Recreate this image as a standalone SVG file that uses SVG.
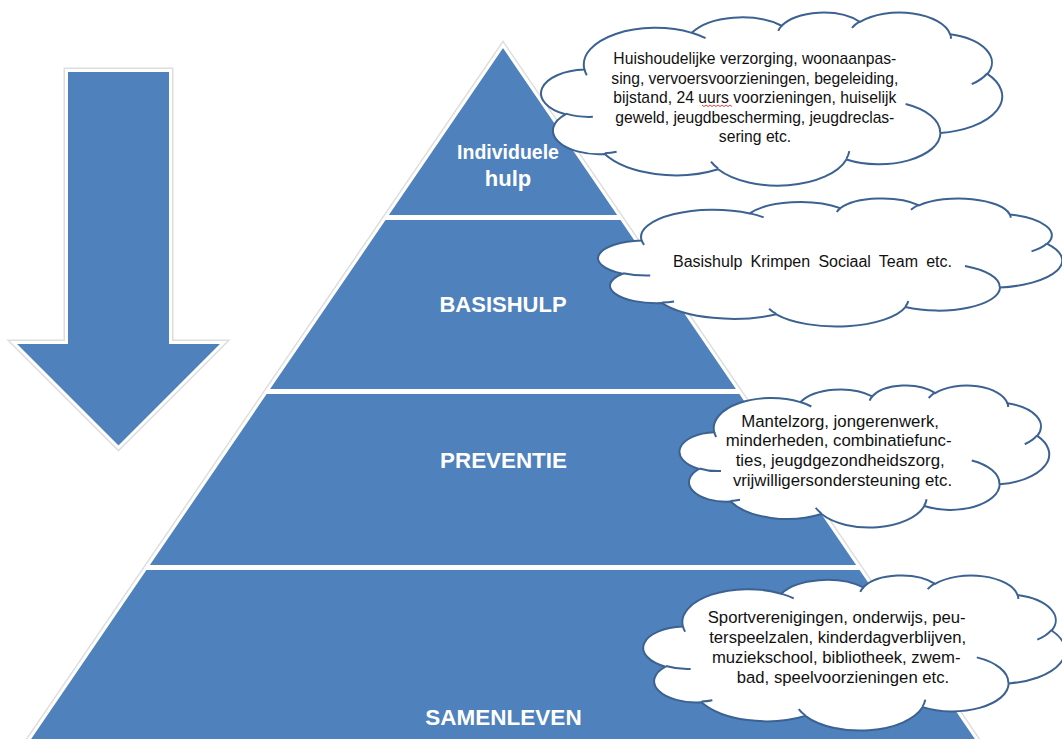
<svg xmlns="http://www.w3.org/2000/svg" width="1062" height="739" viewBox="0 0 1062 739">
<style>
.halo{fill:#fff;stroke:#dedede;stroke-width:6;stroke-linejoin:miter}
.sec{fill:#4F81BD;stroke:#fff;stroke-width:3;stroke-linejoin:miter}
.lbl{font-family:"Liberation Sans",Arial,sans-serif;font-weight:bold;fill:#fff;text-anchor:middle}
.cloud{fill:#fff;stroke:#3B6291;stroke-width:2;vector-effect:non-scaling-stroke}
.inner{fill:none;stroke:#3B6291;stroke-width:2;vector-effect:non-scaling-stroke}
.ct{font-family:"Liberation Sans",Arial,sans-serif;fill:#111;text-anchor:middle}
</style>
<rect width="1062" height="739" fill="#fff"/>

<g id="arrow">
  <polygon class="halo" points="66.5,70.5 170.5,70.5 170.5,342.5 223.5,342.5 118.5,447.5 13.5,342.5 66.5,342.5"/>
  <polygon class="sec" points="66.5,70.5 170.5,70.5 170.5,342.5 223.5,342.5 118.5,447.5 13.5,342.5 66.5,342.5"/>
</g>

<g id="pyramid">
  <polygon class="halo" points="503,45.4 980.8,745 25.2,745"/>
  <g id="level-individuele">
    <polygon class="sec" points="503,45.4 619.9,216.5 386.1,216.5"/>
    <text class="lbl" x="508" y="158.5" font-size="19.5">Individuele</text>
    <text class="lbl" x="508" y="186" font-size="22">hulp</text>
  </g>
  <g id="level-basishulp">
    <polygon class="sec" points="384.8,218.5 621.2,218.5 738.7,390.5 267.3,390.5"/>
    <text class="lbl" x="503" y="312" font-size="22">BASISHULP</text>
  </g>
  <g id="level-preventie">
    <polygon class="sec" points="265.9,392.5 740.1,392.5 858.9,566.5 147.1,566.5"/>
    <text class="lbl" x="503.5" y="467.5" font-size="22.4">PREVENTIE</text>
  </g>
  <g id="level-samenleven">
    <polygon class="sec" points="145.7,568.5 860.3,568.5 980.8,745 25.2,745"/>
    <text class="lbl" x="503.5" y="725" font-size="22.5">SAMENLEVEN</text>
  </g>
</g>

<g id="cloud-individuele">
  <g transform="translate(543,12) scale(1.0625,0.4005)">
    <path class="cloud" d="M39.00 143.70 A67.53 91.90 0 0 1 140.07 52.03 A53.33 72.67 0 0 1 224.59 34.36 A43.65 59.45 0 0 1 298.37 24.86 A48.57 65.95 0 0 1 383.22 55.82 A53.33 72.73 0 0 1 418.22 154.66 A67.75 92.20 0 0 1 374.07 302.08 A57.85 78.67 0 0 1 285.58 368.18 A67.52 92.15 0 0 1 164.82 392.66 A77.20 105.43 0 0 1 58.04 354.70 A43.60 59.18 0 0 1 21.13 255.48 A43.45 59.45 0 0 1 39.00 143.70 Z"/>
    <path class="inner" d="M46.93 261.77 A43.45 59.45 0 0 1 21.59 253.80 M69.28 348.99 A43.60 59.18 0 0 1 58.20 352.81 M164.78 390.90 A67.52 92.15 0 0 1 158.11 373.51 M288.27 347.51 A67.52 92.15 0 0 1 285.60 366.60 M341.29 229.54 A57.85 78.67 0 0 1 373.81 300.90 M417.98 153.54 A53.33 72.73 0 0 1 403.51 180.29 M383.24 54.26 A48.57 65.95 0 0 1 384.00 66.90 M290.78 39.52 A48.57 65.95 0 0 1 298.20 23.39 M221.41 47.20 A43.65 59.45 0 0 1 225.00 33.30 M140.00 51.92 A67.53 91.90 0 0 1 153.00 65.42 M41.27 157.89 A67.53 91.90 0 0 1 39.00 143.70"/>
  </g>
  <text class="ct" font-size="15.7">
    <tspan x="757" y="64" textLength="283" lengthAdjust="spacing">Huishoudelijke verzorging, woonaanpas-</tspan>
    <tspan x="757" y="83.5" textLength="287" lengthAdjust="spacing">sing, vervoersvoorzieningen, begeleiding,</tspan>
    <tspan x="757" y="103" textLength="283" lengthAdjust="spacing">bijstand, 24 uurs voorzieningen, huiselijk</tspan>
    <tspan x="757" y="122.5" textLength="279" lengthAdjust="spacing">geweld, jeugdbescherming, jeugdreclas-</tspan>
    <tspan x="755" y="142">sering etc.</tspan>
  </text>
  <path d="M702 105 l2 1.6 l2 -1.6 l2 1.6 l2 -1.6 l2 1.6 l2 -1.6 l2 1.6 l2 -1.6 l2 1.6 l2 -1.6 l2 1.6 l2 -1.6 l2 1.6 l2 -1.6 l2 1.6" fill="none" stroke="#e03030" stroke-width="0.9"/>
</g>

<g id="cloud-basishulp">
  <g transform="translate(600,198) scale(1.0694,0.2963)">
    <path class="cloud" d="M39.00 143.70 A67.53 91.90 0 0 1 140.07 52.03 A53.33 72.67 0 0 1 224.59 34.36 A43.65 59.45 0 0 1 298.37 24.86 A48.57 65.95 0 0 1 383.22 55.82 A53.33 72.73 0 0 1 418.22 154.66 A67.75 92.20 0 0 1 374.07 302.08 A57.85 78.67 0 0 1 285.58 368.18 A67.52 92.15 0 0 1 164.82 392.66 A77.20 105.43 0 0 1 58.04 354.70 A43.60 59.18 0 0 1 21.13 255.48 A43.45 59.45 0 0 1 39.00 143.70 Z"/>
    <path class="inner" d="M46.93 261.77 A43.45 59.45 0 0 1 21.59 253.80 M69.28 348.99 A43.60 59.18 0 0 1 58.20 352.81 M164.78 390.90 A67.52 92.15 0 0 1 158.11 373.51 M288.27 347.51 A67.52 92.15 0 0 1 285.60 366.60 M341.29 229.54 A57.85 78.67 0 0 1 373.81 300.90 M417.98 153.54 A53.33 72.73 0 0 1 403.51 180.29 M383.24 54.26 A48.57 65.95 0 0 1 384.00 66.90 M290.78 39.52 A48.57 65.95 0 0 1 298.20 23.39 M221.41 47.20 A43.65 59.45 0 0 1 225.00 33.30 M140.00 51.92 A67.53 91.90 0 0 1 153.00 65.42 M41.27 157.89 A67.53 91.90 0 0 1 39.00 143.70"/>
  </g>
  <text class="ct" font-size="16" x="812.5" y="267" word-spacing="3.8">Basishulp Krimpen Sociaal Team etc.</text>
</g>

<g id="cloud-preventie">
  <g transform="translate(681,385) scale(0.8519,0.3287)">
    <path class="cloud" d="M39.00 143.70 A67.53 91.90 0 0 1 140.07 52.03 A53.33 72.67 0 0 1 224.59 34.36 A43.65 59.45 0 0 1 298.37 24.86 A48.57 65.95 0 0 1 383.22 55.82 A53.33 72.73 0 0 1 418.22 154.66 A67.75 92.20 0 0 1 374.07 302.08 A57.85 78.67 0 0 1 285.58 368.18 A67.52 92.15 0 0 1 164.82 392.66 A77.20 105.43 0 0 1 58.04 354.70 A43.60 59.18 0 0 1 21.13 255.48 A43.45 59.45 0 0 1 39.00 143.70 Z"/>
    <path class="inner" d="M46.93 261.77 A43.45 59.45 0 0 1 21.59 253.80 M69.28 348.99 A43.60 59.18 0 0 1 58.20 352.81 M164.78 390.90 A67.52 92.15 0 0 1 158.11 373.51 M288.27 347.51 A67.52 92.15 0 0 1 285.60 366.60 M341.29 229.54 A57.85 78.67 0 0 1 373.81 300.90 M417.98 153.54 A53.33 72.73 0 0 1 403.51 180.29 M383.24 54.26 A48.57 65.95 0 0 1 384.00 66.90 M290.78 39.52 A48.57 65.95 0 0 1 298.20 23.39 M221.41 47.20 A43.65 59.45 0 0 1 225.00 33.30 M140.00 51.92 A67.53 91.90 0 0 1 153.00 65.42 M41.27 157.89 A67.53 91.90 0 0 1 39.00 143.70"/>
  </g>
  <text class="ct" font-size="16.8">
    <tspan x="842.5" y="426.5">Mantelzorg, jongerenwerk,</tspan>
    <tspan x="841" y="446">minderheden, combinatiefunc-</tspan>
    <tspan x="842.5" y="466">ties, jeugdgezondheidszorg,</tspan>
    <tspan x="842.5" y="485.5">vrijwilligersondersteuning etc.</tspan>
  </text>
</g>

<g id="cloud-samenleven">
  <g transform="translate(645,575) scale(0.9722,0.3588)">
    <path class="cloud" d="M39.00 143.70 A67.53 91.90 0 0 1 140.07 52.03 A53.33 72.67 0 0 1 224.59 34.36 A43.65 59.45 0 0 1 298.37 24.86 A48.57 65.95 0 0 1 383.22 55.82 A53.33 72.73 0 0 1 418.22 154.66 A67.75 92.20 0 0 1 374.07 302.08 A57.85 78.67 0 0 1 285.58 368.18 A67.52 92.15 0 0 1 164.82 392.66 A77.20 105.43 0 0 1 58.04 354.70 A43.60 59.18 0 0 1 21.13 255.48 A43.45 59.45 0 0 1 39.00 143.70 Z"/>
    <path class="inner" d="M46.93 261.77 A43.45 59.45 0 0 1 21.59 253.80 M69.28 348.99 A43.60 59.18 0 0 1 58.20 352.81 M164.78 390.90 A67.52 92.15 0 0 1 158.11 373.51 M288.27 347.51 A67.52 92.15 0 0 1 285.60 366.60 M341.29 229.54 A57.85 78.67 0 0 1 373.81 300.90 M417.98 153.54 A53.33 72.73 0 0 1 403.51 180.29 M383.24 54.26 A48.57 65.95 0 0 1 384.00 66.90 M290.78 39.52 A48.57 65.95 0 0 1 298.20 23.39 M221.41 47.20 A43.65 59.45 0 0 1 225.00 33.30 M140.00 51.92 A67.53 91.90 0 0 1 153.00 65.42 M41.27 157.89 A67.53 91.90 0 0 1 39.00 143.70"/>
  </g>
  <text class="ct" font-size="16.7">
    <tspan x="839" y="623">Sportverenigingen, onderwijs, peu-</tspan>
    <tspan x="840" y="643">terspeelzalen, kinderdagverblijven,</tspan>
    <tspan x="838.5" y="662.5">muziekschool, bibliotheek, zwem-</tspan>
    <tspan x="843" y="682.5">bad, speelvoorzieningen etc.</tspan>
  </text>
</g>

<g id="connectors"></g>
</svg>
